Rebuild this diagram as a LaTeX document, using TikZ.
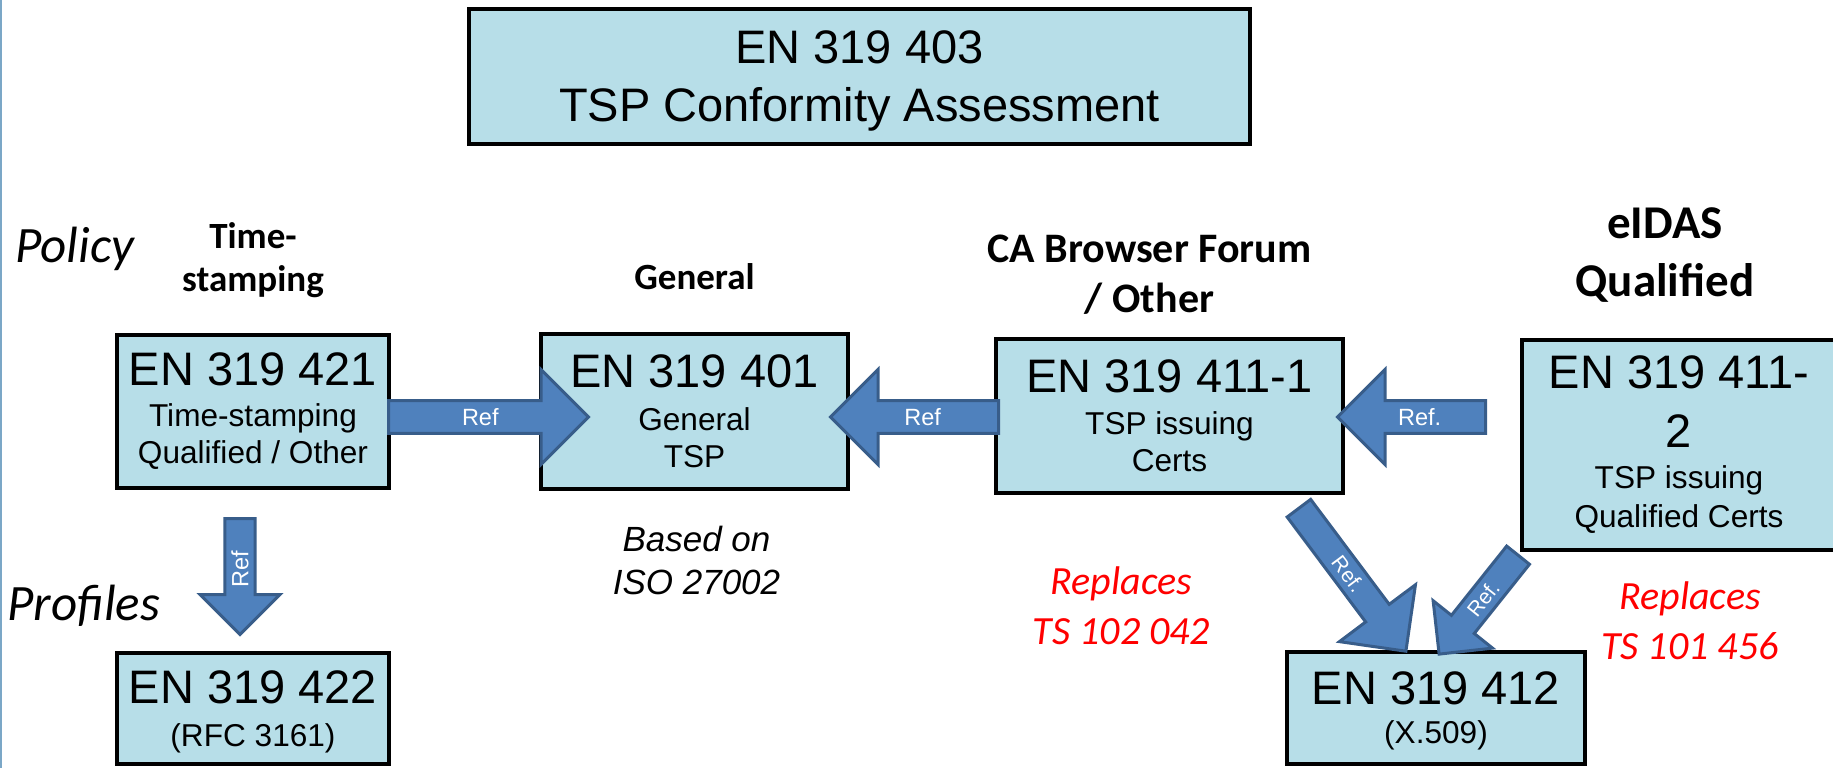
\documentclass[tikz,border=0pt]{standalone}
\usepackage{fontspec}
\setmainfont{Liberation Sans}
\newfontfamily\calibri{Carlito}
\usetikzlibrary{shapes.arrows, positioning, calc}
\definecolor{boxblue}{HTML}{B7DEE8}
\definecolor{arrowblue}{HTML}{4F81BD}
\definecolor{arrowedge}{HTML}{385D8A}
\definecolor{sideline}{HTML}{7BA7C7}
\newcommand{\bignum}{\fontsize{47}{58}\selectfont}
\newcommand{\nodp}[1]{\raisebox{0pt}[\height][0pt]{#1}}
\newcommand{\refarrow}[4][]{\path let \p1=(#2), \p2=(#3), \n1={atan2(\y2-\y1,\x2-\x1)}, \n2={veclen(\x2-\x1,\y2-\y1)} in node[refarrow, minimum height=\n2, rotate=\n1, #1, anchor=tail] at (\p1) {#4};}
\tikzset{stdbox/.style={draw, line width=4pt, fill=boxblue, align=center, inner sep=0pt, font=\fontsize{31.6}{37}\selectfont}}
\tikzset{boxsize/.style 2 args={minimum width=#1pt, minimum height=#2pt}}
\tikzset{heading/.style={align=center, inner sep=0pt, font=\calibri\bfseries\fontsize{37}{43}\selectfont}}
\tikzset{level/.style={inner sep=0pt, anchor=base west, font=\calibri\itshape\fontsize{51}{60}\selectfont}}
\tikzset{replaces/.style={align=center, inner sep=0pt, text=red, font=\calibri\itshape\fontsize{40}{50}\selectfont}}
\tikzset{refarrow/.style={single arrow, draw=arrowedge, line width=3pt, fill=arrowblue, text=white, inner sep=2pt, font=\fontsize{23.5}{28}\selectfont, minimum width=95pt, single arrow head extend=23pt}}
\tikzset{flip/.style={shape border rotate=180, rotate=180}}

\begin{document}
\begin{tikzpicture}[x=1pt, y=-1pt]
\clip (0,0) rectangle (1833,768);
\draw[sideline, line width=3pt] (0,0) -- (0,768);

% boxes
\node[stdbox, boxsize={781}{135}, font=\bignum] (a403) at (859.5,76.5) {EN 319 403\\\nodp{TSP Conformity Assessment}};
\node[stdbox, boxsize={272}{153}] (ts421) at (253,411.5) {\bignum EN 319 421\\[4pt]Time-stamping\\Qualified / Other};
\node[stdbox, boxsize={307}{155}] (gen401) at (694.5,411.5) {\bignum EN 319 401\\[6pt]General\\TSP};
\node[stdbox, boxsize={347}{154}] (ca4111) at (1169.5,416) {\bignum EN 319 411-1\\[5pt]TSP issuing\\Certs};
\node[stdbox, boxsize={314}{210}] (q4112) at (1679,445) {\bignum EN 319 411-\\[22pt]\bignum 2\\[4pt]TSP issuing\\[2pt]Qualified Certs};
\node[stdbox, boxsize={272}{111}] (pr422) at (253,708.5) {\bignum EN 319 422\\[6pt]\nodp{(RFC 3161)}};
\node[stdbox, boxsize={298}{112}] (x509) at (1436,708) {\bignum EN 319 412\\[2pt]\nodp{(X.509)}};

% headings and notes
\node[level] (policy) at (15,262) {Policy};
\node[level] (profiles) at (7,620) {Profiles};
\node[heading, above=35pt of ts421] (tslabel) {Time-\\stamping};
\node[heading, above=42pt of gen401] (genlabel) {General};
\node[heading, font=\calibri\bfseries\fontsize{42}{50}\selectfont, above=22pt of ca4111, xshift=-20pt] (calabel) {CA Browser Forum\\/ Other};
\node[heading, font=\calibri\bfseries\fontsize{47}{58}\selectfont, above=35pt of q4112, xshift=-14pt] (eilabel) {eIDAS\\Qualified};
\node[below=35pt of gen401, xshift=2pt, align=center, inner sep=0pt, font=\itshape\fontsize{35}{43}\selectfont] (basedon) {Based on\\ISO 27002};
\node[replaces, below=72pt of ca4111, xshift=-48pt] (rep1) {Replaces\\TS 102 042};
\node[replaces, below=30pt of q4112, xshift=11pt] (rep2) {Replaces\\TS 101 456};

% references
\refarrow{$(ts421.east)+(-4,5.5)$}{$(gen401.west)+(48,5.5)$}{Ref}
\refarrow[flip]{$(ca4111.west)+(6,1)$}{$(gen401.east)+(-18,5.5)$}{Ref}
\refarrow[flip]{$(q4112.west)+(-33,-28)$}{$(ca4111.east)+(-6,1)$}{Ref.}
\refarrow[flip, minimum width=80pt, single arrow head extend=20pt]{$(ts421.south)+(-13,27)$}{$(pr422.north)+(-13,-18)$}{Ref}
\refarrow[minimum width=95pt, single arrow head extend=25pt, font=\fontsize{21}{25}\selectfont]{$(ca4111.south east)+(-47,12)$}{$(x509.north)+(-31,0)$}{Ref.}
\refarrow[flip, minimum width=76pt, single arrow head extend=18pt, font=\fontsize{21}{25}\selectfont]{$(q4112.south west)+(-1,2)$}{$(x509.north)+(4,3)$}{Ref.}
\end{tikzpicture}
\end{document}
